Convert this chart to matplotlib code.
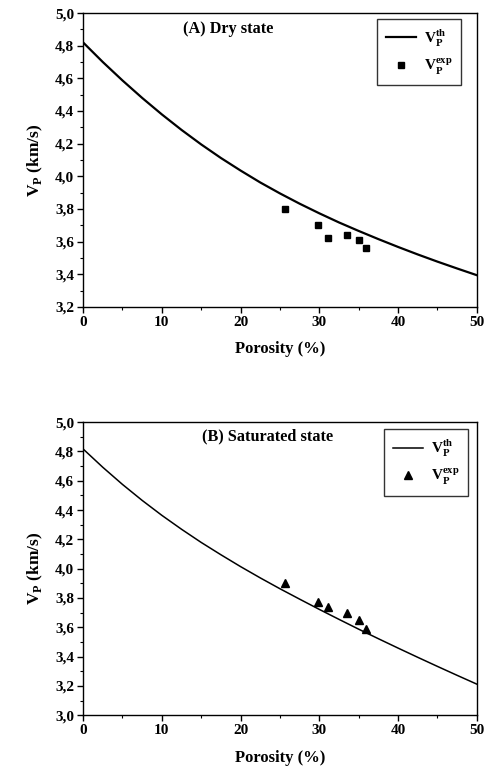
import matplotlib
matplotlib.use("Agg")
import matplotlib.pyplot as plt
from matplotlib.ticker import MultipleLocator, FuncFormatter

plt.rcParams['font.family'] = ['Liberation Serif', 'DejaVu Serif']
plt.rcParams['font.weight'] = 'bold'
plt.rcParams['mathtext.fontset'] = 'custom'
plt.rcParams['mathtext.rm'] = 'Liberation Serif'
plt.rcParams['mathtext.bf'] = 'Liberation Serif:bold'

# theoretical curves (every 2.5 %)
porosity = [0, 2.5, 5, 7.5, 10, 12.5, 15, 17.5, 20, 22.5, 25,
            27.5, 30, 32.5, 35, 37.5, 40, 42.5, 45, 47.5, 50]
vp_th_dry = [4.82, 4.70, 4.587, 4.48, 4.379, 4.284, 4.195, 4.112, 4.035, 3.962, 3.895,
             3.832, 3.773, 3.717, 3.665, 3.615, 3.567, 3.521, 3.477, 3.435, 3.394]
vp_th_sat = [4.817, 4.692, 4.575, 4.466, 4.364, 4.269, 4.179, 4.095, 4.014, 3.937, 3.863,
             3.792, 3.722, 3.654, 3.587, 3.522, 3.458, 3.395, 3.333, 3.272, 3.212]

# experimental points
por_exp = [25.7, 29.8, 31.1, 33.5, 35.1, 35.9]
vp_exp_dry = [3.80, 3.70, 3.62, 3.64, 3.61, 3.56]
vp_exp_sat = [3.90, 3.77, 3.74, 3.70, 3.65, 3.59]

lab_th = r'$\mathbf{V}_\mathbf{P}^{\mathbf{th}}$'
lab_exp = r'$\mathbf{V}_\mathbf{P}^{\mathbf{exp}}$'

fig = plt.figure(figsize=(4.89, 7.69), dpi=100)
ax1 = fig.add_axes([0.170, 0.601, 0.805, 0.382])
ax2 = fig.add_axes([0.170, 0.070, 0.805, 0.381])

comma = FuncFormatter(lambda v, p: ('%.1f' % v).replace('.', ','))


def style(ax, ylo, yhi):
    ax.set_xlim(0, 50)
    ax.set_ylim(ylo, yhi)
    ax.xaxis.set_major_locator(MultipleLocator(10))
    ax.xaxis.set_minor_locator(MultipleLocator(5))
    ax.yaxis.set_major_locator(MultipleLocator(0.2))
    ax.yaxis.set_minor_locator(MultipleLocator(0.1))
    ax.yaxis.set_major_formatter(comma)
    ax.tick_params(which='both', direction='out', top=False, right=False, labelsize=11)
    ax.tick_params(which='major', length=4, width=1, pad=2.5)
    ax.tick_params(which='minor', length=2.5, width=0.8)
    for s in ax.spines.values():
        s.set_linewidth(1.0)
    ax.set_xlabel('Porosity (%)', fontsize=12, fontweight='bold', labelpad=9)
    ax.set_ylabel(r'$\mathbf{V}_\mathbf{P}$ (km/s)', fontsize=12.5, fontweight='bold', labelpad=7)


def legend(ax, anchor):
    leg = ax.legend(loc='upper right', bbox_to_anchor=anchor, borderaxespad=0,
                    fancybox=False, edgecolor='black', fontsize=11, handlelength=2.0,
                    handletextpad=0.5, borderpad=0.55, labelspacing=0.5)
    leg.get_frame().set_linewidth(1.0)


ax1.plot(porosity, vp_th_dry, color='black', lw=1.6, label=lab_th)
ax1.plot(por_exp, vp_exp_dry, 's', color='black', ms=4.7, label=lab_exp)
style(ax1, 3.2, 5.0)
ax1.text(0.369, 0.947, '(A) Dry state', transform=ax1.transAxes, ha='center', va='center',
         fontsize=11.7, fontweight='bold')
legend(ax1, (0.96, 0.98))

ax2.plot(porosity, vp_th_sat, color='black', lw=1.1, label=lab_th)
ax2.plot(por_exp, vp_exp_sat, '^', color='black', ms=6, label=lab_exp)
style(ax2, 3.0, 5.0)
ax2.text(0.468, 0.95, '(B) Saturated state', transform=ax2.transAxes, ha='center', va='center',
         fontsize=11.7, fontweight='bold')
legend(ax2, (0.978, 0.976))

fig.savefig('out.png', dpi=100)
